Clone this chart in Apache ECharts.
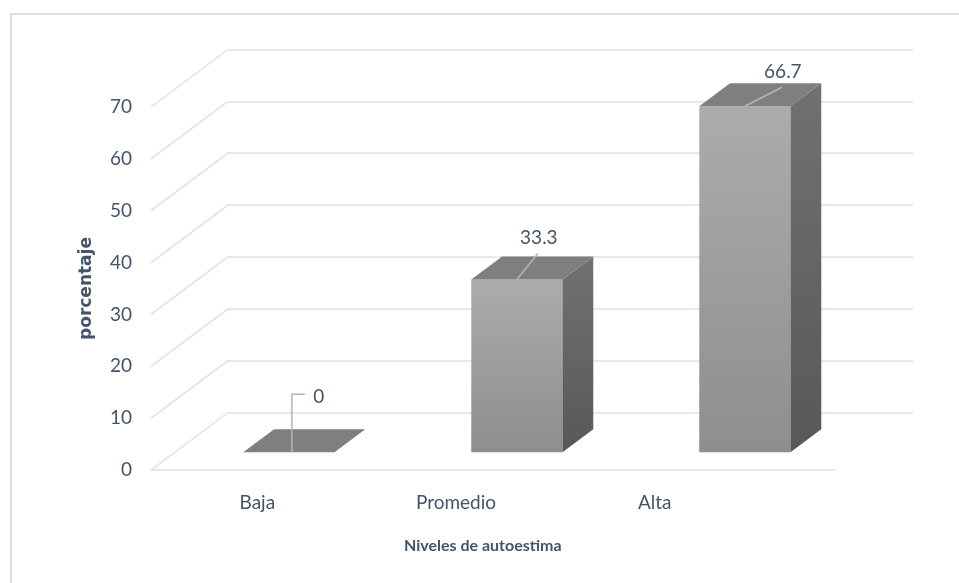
<!DOCTYPE html>
<html>
<head>
<meta charset="utf-8">
<style>
  html, body { margin: 0; padding: 0; background: #fff; }
  #chart { width: 959px; height: 583px; }
</style>
<script src="https://cdn.jsdelivr.net/npm/echarts@6.0.0/dist/echarts.min.js"></script>
</head>
<body>
<div id="chart"></div>
<script>
const categories = ['Baja', 'Promedio', 'Alta'];
const values = [0, 33.3, 66.7];
const yTicks = [0, 10, 20, 30, 40, 50, 60, 70];

const TEXT = '#44546a';
const GRID_LINE = '#dde1e8';
// floor depth: offset from front plane to back wall, in px
const DEPTH_X = 77, DEPTH_Y = -57.5;
// bars sit between 31% and 71% of the depth, 40% of the band wide
const BAR_Z0 = 0.31, BAR_Z1 = 0.71, BAR_W = 0.4;

// leader lines / label offsets from the front-top centre of each bar
const labelLayout = [
  { path: [[3, 0], [3, -58], [16, -58]], text: [30, -55] },
  { path: [[0, 0], [21, -26]], text: [22, -42] },
  { path: [[0, 0], [37, -19]], text: [38, -34] }
];

const chart = echarts.init(document.getElementById('chart'));

// diagonal part of the gridlines (front edge up to the back wall)
function renderWallLine(params, api) {
  const cs = params.coordSys;
  const y = api.coord([0, api.value(1)])[1];
  return {
    type: 'line',
    shape: { x1: cs.x, y1: y, x2: cs.x + DEPTH_X, y2: y + DEPTH_Y },
    style: { stroke: GRID_LINE, lineWidth: 1.5 }
  };
}

function renderBar(params, api) {
  const i = api.value(0), v = api.value(1);
  const band = api.size([1, 0])[0];
  const base = api.coord([i, 0]);
  const y1 = api.coord([i, v])[1];
  const w = band * BAR_W;
  const ox = DEPTH_X * BAR_Z0, oy = DEPTH_Y * BAR_Z0;
  const dx = DEPTH_X * (BAR_Z1 - BAR_Z0), dy = DEPTH_Y * (BAR_Z1 - BAR_Z0);
  const L = base[0] - w / 2 + ox, R = base[0] + w / 2 + ox;
  const B = base[1] + oy, T = y1 + oy;
  const children = [];

  if (B - T > 0.5) {
    children.push({
      type: 'rect',
      shape: { x: L, y: T, width: w, height: B - T },
      style: {
        fill: new echarts.graphic.LinearGradient(0, 0, 0, 1, [
          { offset: 0, color: '#acacac' },
          { offset: 1, color: '#8e8e8e' }
        ])
      }
    });
    children.push({
      type: 'polygon',
      shape: { points: [[R, B], [R, T], [R + dx, T + dy], [R + dx, B + dy]] },
      style: {
        fill: new echarts.graphic.LinearGradient(0, 0, 0, 1, [
          { offset: 0, color: '#717171' },
          { offset: 1, color: '#585858' }
        ])
      }
    });
  }
  children.push({
    type: 'polygon',
    shape: { points: [[L, T], [R, T], [R + dx, T + dy], [L + dx, T + dy]] },
    style: { fill: '#7f7f7f' }
  });

  const lay = labelLayout[i];
  const ax = (L + R) / 2, ay = T;
  children.push({
    type: 'polyline',
    shape: { points: lay.path.map(p => [ax + p[0], ay + p[1]]) },
    style: { stroke: '#a9b8c9', lineWidth: 1.5, fill: null }
  });
  children.push({
    type: 'text',
    x: ax + lay.text[0],
    y: ay + lay.text[1],
    style: {
      text: String(v),
      fill: TEXT,
      fontSize: 19,
      fontFamily: 'Lato',
      align: 'center',
      verticalAlign: 'middle'
    }
  });
  return { type: 'group', children: children };
}

const option = {
  animation: false,
  backgroundColor: '#fff',
  graphic: [{
    type: 'rect',
    silent: true,
    shape: { x: 11, y: 14, width: 960, height: 580 },
    style: { fill: 'none', stroke: '#dadee5', lineWidth: 2 }
  }],
  title: {
    text: 'Niveles de autoestima',
    left: 404,
    top: 538,
    padding: 0,
    textStyle: { color: TEXT, fontSize: 16, fontWeight: 'bold', fontFamily: 'Lato' }
  },
  grid: [
    { left: 151, right: 124, top: 107, bottom: 113 },    // front plane
    { left: 228, right: 46, top: 49.5, bottom: 170.5 },  // back wall
    { left: 158, right: 205, top: 107, bottom: 113 }     // category labels
  ],
  xAxis: [
    {
      gridIndex: 0, type: 'category', data: categories,
      axisLine: { lineStyle: { color: GRID_LINE, width: 1.5 } },
      axisTick: { show: false },
      axisLabel: { show: false }
    },
    { gridIndex: 1, type: 'value', show: false },
    {
      gridIndex: 2, type: 'category', data: categories,
      axisLine: { show: false },
      axisTick: { show: false },
      axisLabel: { color: TEXT, fontSize: 19, fontFamily: 'Lato', margin: 23 }
    }
  ],
  yAxis: [
    {
      gridIndex: 0, type: 'value', min: 0, max: 70, interval: 10,
      name: 'porcentaje',
      nameLocation: 'middle',
      nameGap: 56,
      nameTextStyle: { color: TEXT, fontSize: 17, fontWeight: 'bold', fontFamily: 'DejaVu Sans' },
      axisLine: { show: false },
      axisTick: { show: false },
      splitLine: { show: false },
      axisLabel: { color: TEXT, fontSize: 19, fontFamily: 'Lato', margin: 19, padding: [8, 0, 0, 0] }
    },
    {
      gridIndex: 1, type: 'value', min: 0, max: 70, interval: 10,
      axisLine: { show: false },
      axisTick: { show: false },
      axisLabel: { show: false },
      splitLine: { lineStyle: { color: GRID_LINE, width: 1.5 } }
    },
    { gridIndex: 2, type: 'value', show: false }
  ],
  series: [
    {
      type: 'custom',
      xAxisIndex: 0, yAxisIndex: 0,
      z: 1,
      silent: true,
      renderItem: renderWallLine,
      data: yTicks.map(v => [0, v])
    },
    {
      type: 'custom',
      xAxisIndex: 0, yAxisIndex: 0,
      z: 3,
      renderItem: renderBar,
      data: values.map((v, i) => [i, v])
    }
  ]
};

chart.setOption(option);
</script>
</body>
</html>
